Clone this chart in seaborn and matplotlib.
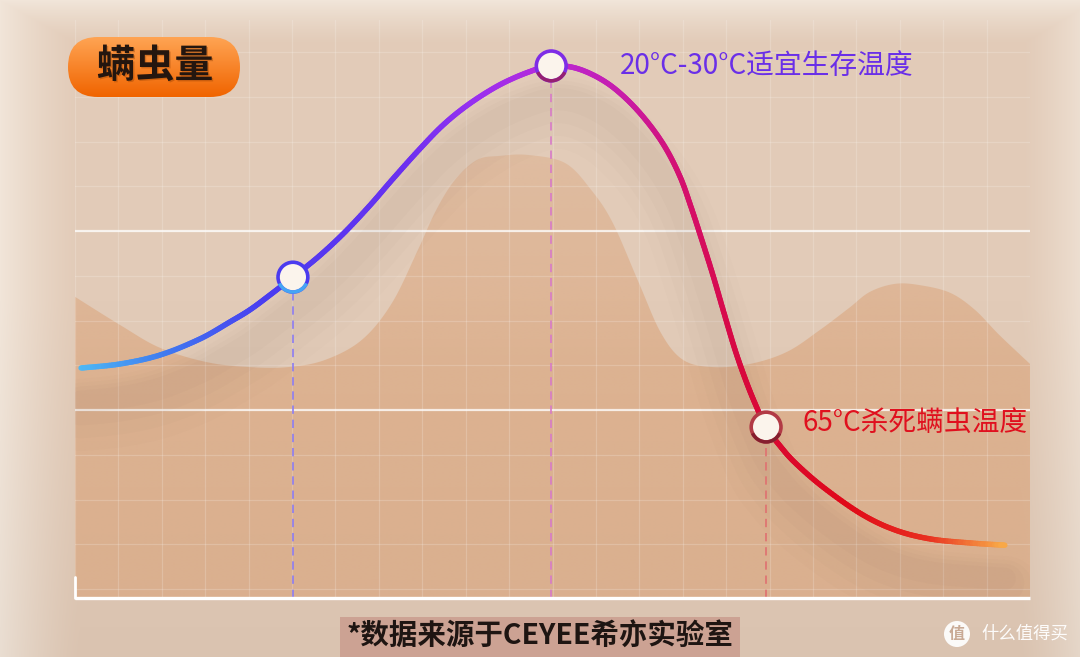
import numpy as np
import pandas as pd
import matplotlib
matplotlib.use("Agg")
import matplotlib.pyplot as plt
import seaborn as sns
from matplotlib.collections import LineCollection
from matplotlib.colors import LinearSegmentedColormap, Normalize, to_rgb
from matplotlib.patches import FancyBboxPatch, Rectangle, Circle, Polygon, Wedge
import matplotlib.patheffects as pe

# ---------------- data (grid units: x = grid columns, y = grid rows above baseline) -------------
curve_x = [0.14, 1.04, 1.96, 2.88, 3.57, 4.03, 4.49, 5.02, 5.60, 6.20, 6.80, 7.30, 7.90, 8.48,
           9.08, 9.77, 10.44, 10.97, 11.54, 12.14, 12.65, 13.15, 13.59, 13.94, 14.19, 14.44,
           14.70, 14.95, 15.20, 15.43, 15.66, 15.92, 16.24, 16.59, 17.23, 18.11, 18.89, 19.70,
           20.62, 21.42]
curve_y = [5.14, 5.23, 5.43, 5.79, 6.17, 6.44, 6.77, 7.17, 7.62, 8.16, 8.78, 9.34, 9.99, 10.57,
           11.04, 11.46, 11.75, 11.89, 11.84, 11.58, 11.20, 10.68, 10.08, 9.41, 8.74, 8.00,
           7.20, 6.37, 5.56, 4.92, 4.36, 3.82, 3.40, 3.02, 2.48, 1.88, 1.52, 1.32,
           1.23, 1.18]

hill_x = [0.00, 1.04, 1.96, 3.04, 4.03, 4.91, 5.76, 6.61, 7.30, 7.90, 8.32, 8.75, 9.26, 9.79,
          10.44, 11.29, 11.89, 12.39, 12.99, 13.50, 14.01, 14.70, 15.55, 16.40, 17.16, 17.83,
          18.31, 18.89, 19.47, 20.16, 20.73, 21.29, 22.00]
hill_y = [6.73, 6.10, 5.59, 5.27, 5.16, 5.16, 5.32, 5.77, 6.59, 7.78, 8.67, 9.34, 9.79, 9.88,
          9.90, 9.72, 9.12, 8.38, 7.04, 5.92, 5.32, 5.16, 5.23, 5.50, 5.99, 6.48,
          6.84, 7.02, 6.99, 6.82, 6.44, 5.88, 5.23]

marker_x = [5.02, 10.97, 15.92]
marker_y = [7.17, 11.89, 3.82]

label_texts = ["20°C-30°C适宜生存温度", "65°C杀死螨虫温度"]
title_text = "螨虫量"
caption_text = "*数据来源于CEYEE希亦实验室"
badge_text = "值"
watermark_text = "什么值得买"

# ---------------- style / layout -------------
sns.set_theme(style="white")
plt.rcParams['font.family'] = ['Noto Sans CJK SC', 'DejaVu Sans']

W, H = 1080, 657
GX, GY = 43.41, 44.75          # pixels per grid unit
X0, Y0, TOP, X1 = 75, 598, 20, 1030
XMAX = (X1 - X0) / GX
YMAX = (Y0 - TOP) / GY


def to_px(x, y):
    return X0 + np.asarray(x) * GX, Y0 - np.asarray(y) * GY


def smooth_path(xs, ys, n=16):
    """Catmull-Rom rendering of a polyline through the given points (drawing only)."""
    p = np.column_stack([xs, ys]).astype(float)
    p = np.vstack([p[0], p, p[-1]])
    out = []
    for i in range(1, len(p) - 2):
        p0, p1, p2, p3 = p[i - 1], p[i], p[i + 1], p[i + 2]
        t = np.linspace(0, 1, n, endpoint=False)[:, None]
        out.append(0.5 * ((2 * p1) + (-p0 + p2) * t + (2 * p0 - 5 * p1 + 4 * p2 - p3) * t ** 2
                          + (-p0 + 3 * p1 - 3 * p2 + p3) * t ** 3))
    out.append(p[-2][None, :])
    out = np.vstack(out)
    return out[:, 0], out[:, 1]


fig = plt.figure(figsize=(W / 100, H / 100), dpi=100)

# background with soft vignette
yy, xx = np.mgrid[0:H, 0:W].astype(float)
center = np.array([226, 203, 184]) / 255
edge = np.array([241, 229, 217]) / 255
t = np.maximum.reduce([
    np.clip(1 - xx / 80, 0, 1),
    np.clip(1 - (W - xx) / 60, 0, 1) * 0.8,
    np.clip(1 - yy / 45, 0, 1),
])
t = t ** 1.3
bg = center[None, None, :] * (1 - t[..., None]) + edge[None, None, :] * t[..., None]
dark = np.clip((yy - 300) / 357, 0, 1)[..., None] * 0.03
bg = np.clip(bg - dark, 0, 1)
bax = fig.add_axes([0, 0, 1, 1])
bax.imshow(bg, extent=[0, W, H, 0], aspect='auto', interpolation='bilinear')
bax.set_xlim(0, W); bax.set_ylim(H, 0); bax.axis('off')
bax.set_zorder(0)

# main plot axes
ax = fig.add_axes([X0 / W, (H - Y0) / H, (X1 - X0) / W, (Y0 - TOP) / H])
ax.set_xlim(0, XMAX); ax.set_ylim(0, YMAX)
ax.axis('off')
ax.patch.set_alpha(0)
ax.set_zorder(1)

# hill fill with vertical gradient
hx, hy = smooth_path(hill_x, hill_y)
verts = list(zip(hx, hy)) + [(XMAX, 0), (0, 0)]
hill_patch = Polygon(verts, closed=True, facecolor='none', edgecolor='none', transform=ax.transData)
ax.add_patch(hill_patch)
gy = np.linspace(0, 1, 256)[:, None]
fillc = np.array([218, 160, 116]) / 255
alpha = np.clip(0.56 - np.clip((gy * YMAX - 5.0) / 5.0, 0, 1) * 0.22, 0, 1)
grad = np.zeros((256, 2, 4))
grad[..., :3] = fillc
grad[..., 3] = alpha
im = ax.imshow(grad, extent=[0, XMAX, 0, YMAX], origin='lower', aspect='auto', zorder=1,
               interpolation='bilinear')
im.set_clip_path(hill_patch)

# grid
for k in range(int(XMAX) + 1):
    ax.axvline(k, color='white', alpha=0.18, lw=0.9, zorder=2)
for yv in np.arange(0.2, YMAX, 1.0):
    ax.axhline(yv, color='white', alpha=0.18, lw=0.9, zorder=2)
for yv in (4.2, 8.2):
    ax.axhline(yv, color='white', alpha=0.75, lw=1.6, zorder=2.5)

# soft shadow under the curve
cx, cy = smooth_path(curve_x, curve_y)
df = pd.DataFrame({'x': cx, 'y': cy})
for lw, a, off in [(52, 0.015, 1.05), (40, 0.018, 0.95), (28, 0.022, 0.85), (16, 0.024, 0.75)]:
    sns.lineplot(data=df.assign(y=df['y'] - off), x='x', y='y', ax=ax, color='#6e5046',
                 lw=lw, alpha=a, zorder=3, solid_capstyle='round', legend=False,
                 sort=False, estimator=None)

# dashed guide lines
guide_colors = ['#8C7CF2', '#D77AC8', '#E07070']
for mx, my, c in zip(marker_x, marker_y, guide_colors):
    ax.plot([mx, mx], [0, my], color=c, lw=1.2, dashes=(5, 3.5), zorder=3.5)

# baseline and small left tick
ax.plot([0, XMAX], [0, 0], color='white', lw=2.4, clip_on=False, zorder=3.6, solid_capstyle='butt')
ax.plot([0, 0], [0, 21 / GY], color='white', lw=2.0, clip_on=False, zorder=3.6)

# gradient curve
cmap = LinearSegmentedColormap.from_list('mite', [
    (0.00, '#4DB8F5'), (0.09, '#3F7BF0'), (0.20, '#4A3CF0'), (0.35, '#6A30F0'),
    (0.43, '#9A30F0'), (0.51, '#B828D8'), (0.59, '#C81CA8'), (0.65, '#D41070'),
    (0.72, '#D8083C'), (0.83, '#E00818'), (0.92, '#E83020'), (1.00, '#F8A848')])
pts = np.column_stack([cx, cy])
segs = np.stack([pts[:-1], pts[1:]], axis=1)
mids = (pts[:-1, 0] + pts[1:, 0]) / 2
norm = Normalize(min(curve_x), max(curve_x))
lc = LineCollection(segs, colors=cmap(norm(mids)), linewidths=3.9,
                    capstyle='round', joinstyle='round', zorder=4)
ax.add_collection(lc)

# markers
ring_colors = ['#4B3BEF', '#7E2CE6', '#B23A45']
ring_bottom = ['#45B8F5', '#9A1F5E', '#7E1A2A']
sns.scatterplot(x=marker_x, y=marker_y, ax=ax, s=460, color='#FBF4EC',
                edgecolor=ring_colors, linewidth=2.6, zorder=5, legend=False)

# ---------------- decorations in pixel coordinates -------------
deco = fig.add_axes([0, 0, 1, 1])
deco.set_xlim(0, W); deco.set_ylim(H, 0); deco.axis('off')
deco.patch.set_alpha(0)
deco.set_zorder(3)

# lower half of each marker ring in a second tone (y axis inverted: 0-180 deg is the bottom)
mpx, mpy = to_px(marker_x, marker_y)
for px, py, c in zip(mpx, mpy, ring_bottom):
    deco.add_patch(Wedge((px, py), 16.6, 25, 155, width=3.5, facecolor=c, edgecolor='none',
                         alpha=0.85, zorder=1))

deco.text(620, 66, label_texts[0], color='#6A2FE8', fontsize=20, ha='left', va='center',
          fontweight='medium')
deco.text(803, 423, label_texts[1], color='#E0101E', fontsize=20, ha='left', va='center',
          fontweight='medium')

# title pill with orange gradient
pill = FancyBboxPatch((68, 37), 172, 60, boxstyle='round,pad=0,rounding_size=30',
                      facecolor='none', edgecolor='none')
deco.add_patch(pill)
pg = np.linspace(0, 1, 64)[:, None]
top_c, bot_c = np.array(to_rgb('#FFA453')), np.array(to_rgb('#F06400'))
pill_img = top_c[None, None, :] * (1 - pg[..., None]) + bot_c[None, None, :] * pg[..., None]
pill_img = np.repeat(pill_img, 2, axis=1)
pim = deco.imshow(pill_img, extent=[68, 240, 97, 37], aspect='auto', zorder=2,
                  interpolation='bilinear')
pim.set_clip_path(pill)
deco.text(155, 66, title_text, color='#24160F', fontsize=28, fontweight='bold',
          ha='center', va='center', zorder=3,
          path_effects=[pe.withSimplePatchShadow(offset=(1, -1), shadow_rgbFace='#8a3a00', alpha=0.35)])

# caption box
deco.add_patch(Rectangle((340, 617), 400, 42, facecolor='#CCA293', edgecolor='none', zorder=2))
deco.text(540, 637, caption_text, color='#1E1512', fontsize=20.5, fontweight='bold',
          ha='center', va='center', zorder=3)

# watermark
deco.add_patch(Circle((957, 634), 13, facecolor='white', edgecolor='none', alpha=0.92, zorder=2))
deco.text(957, 634, badge_text, color='#C9AA95', fontsize=11.5, fontweight='bold',
          ha='center', va='center', zorder=3)
deco.text(981, 634, watermark_text, color='white', fontsize=12.5, ha='left', va='center',
          alpha=0.95, zorder=3)

fig.savefig('out.png', dpi=100)
